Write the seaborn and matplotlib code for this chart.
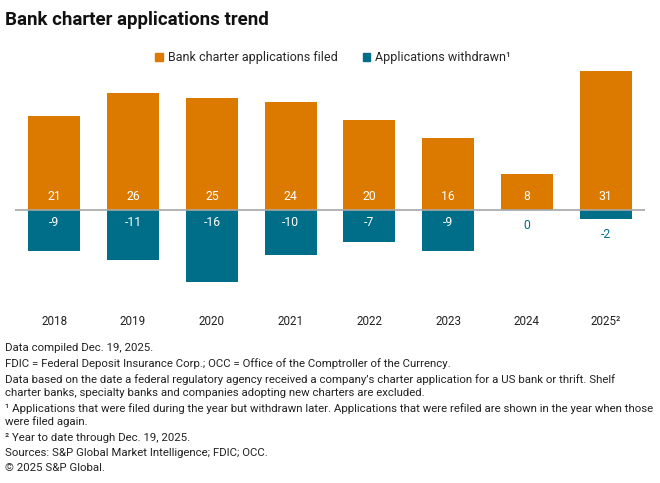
import matplotlib
matplotlib.use("Agg")
import matplotlib.pyplot as plt
import seaborn as sns
import pandas as pd
from matplotlib.patches import Patch

years = ["2018", "2019", "2020", "2021", "2022", "2023", "2024", "2025²"]
filed = [21, 26, 25, 24, 20, 16, 8, 31]
withdrawn = [-9, -11, -16, -10, -7, -9, 0, -2]

ORANGE = "#DC7A00"
TEAL = "#006E88"

sns.set_theme(style="white")
plt.rcParams["font.family"] = ["Roboto", "DejaVu Sans"]

df = pd.DataFrame({"year": years, "filed": filed, "withdrawn": withdrawn})

fig = plt.figure(figsize=(6.6, 4.83), dpi=100)
W, H = 660, 483
ax = fig.add_axes([15 / W, 1 - 291 / H, 630 / W, 225 / H])

sns.barplot(data=df, x="year", y="filed", color=ORANGE, width=0.66, ax=ax,
            saturation=1, edgecolor="none")
sns.barplot(data=df, x="year", y="withdrawn", color=TEAL, width=0.66, ax=ax,
            saturation=1, edgecolor="none")

ax.set_ylim(-18, 32)
ax.set_xlim(-0.5, len(years) - 0.5)
ax.axhline(0, color="#A6A6A6", lw=1.2, zorder=5)
for s in ax.spines.values():
    s.set_visible(False)
ax.set_yticks([])
ax.set_xlabel("")
ax.set_ylabel("")
ax.tick_params(axis="x", length=0, pad=17, labelsize=8.4, colors="#222222")

for i, v in enumerate(filed):
    ax.annotate(str(v), (i, 0), xytext=(0, 9.5), textcoords="offset points",
                ha="center", va="center", color="white", fontsize=8.8)
for i, v in enumerate(withdrawn):
    if abs(v) >= 4:
        ax.annotate(str(v), (i, 0), xytext=(0, -8.8), textcoords="offset points",
                    ha="center", va="center", color="white", fontsize=8.8)
    else:
        ax.annotate(str(v), (i, v), xytext=(0, -11), textcoords="offset points",
                    ha="center", va="center", color=TEAL, fontsize=8.8)

fig.text(5 / W, 1 - 20 / H, "Bank charter applications trend", fontsize=13.5,
         fontweight="bold", ha="left", va="center", color="#111111")

handles = [Patch(color=ORANGE, label="Bank charter applications filed"),
           Patch(color=TEAL, label="Applications withdrawn¹")]
fig.legend(handles=handles, loc="center", bbox_to_anchor=(333 / W, 1 - 58 / H),
           ncol=2, frameon=False, fontsize=9, handlelength=0.6, handleheight=0.6,
           handletextpad=0.4, columnspacing=2.0)

notes = [
    (348, "Data compiled Dec. 19, 2025."),
    (364, "FDIC = Federal Deposit Insurance Corp.; OCC = Office of the Comptroller of the Currency."),
    (380, "Data based on the date a federal regulatory agency received a company’s charter application for a US bank or thrift. Shelf"),
    (393, "charter banks, specialty banks and companies adopting new charters are excluded."),
    (409, "¹ Applications that were filed during the year but withdrawn later. Applications that were refiled are shown in the year when those"),
    (422, "were filed again."),
    (438, "² Year to date through Dec. 19, 2025."),
    (453, "Sources: S&P Global Market Intelligence; FDIC; OCC."),
    (468, "© 2025 S&P Global."),
]
for y, t in notes:
    fig.text(5 / W, 1 - y / H, t, fontsize=8.2, ha="left", va="center", color="#222222")

fig.savefig("out.png", dpi=100)
